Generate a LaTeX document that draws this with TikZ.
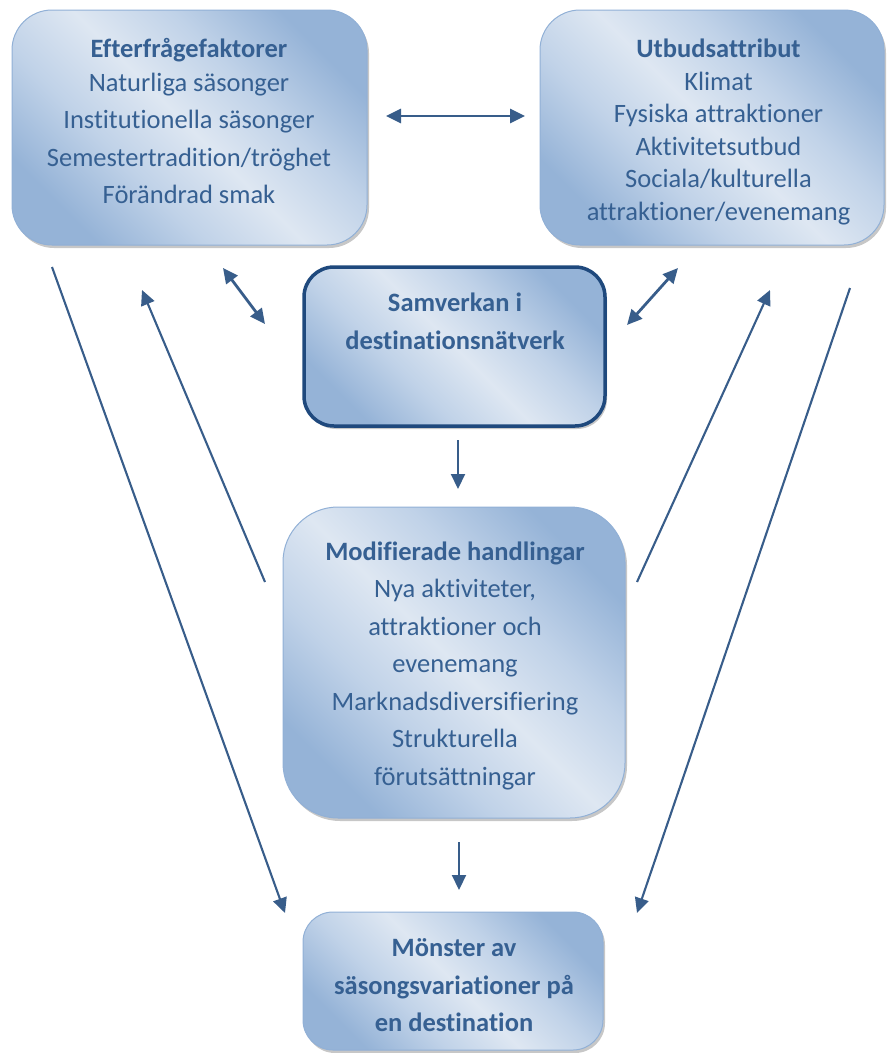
\documentclass[tikz,border=0pt]{standalone}
\usepackage{fontspec}
\setmainfont{Carlito}[Ligatures=NoCommon]
\usetikzlibrary{arrows.meta,shadows}
\definecolor{bdark}{RGB}{149,179,215}
\definecolor{bmid}{RGB}{192,210,232}
\definecolor{blight}{RGB}{222,231,242}
\definecolor{bborder}{RGB}{145,176,214}
\definecolor{txtc}{RGB}{54,96,146}
\definecolor{arrc}{RGB}{56,93,138}
\definecolor{frameblue}{RGB}{31,73,125}
\pgfdeclareverticalshading{boxshade}{100bp}{color(0bp)=(bdark); color(25bp)=(bdark); color(38bp)=(bmid); color(50bp)=(blight); color(62bp)=(bmid); color(75bp)=(bdark); color(100bp)=(bdark)}
\begin{document}
\begin{tikzpicture}[x=1pt,y=-1pt,
  box/.style={rectangle, rounded corners=#1, draw=bborder, line width=1pt,
    shading=boxshade, shading angle=-45,
    drop shadow={shadow xshift=2pt, shadow yshift=-3pt, fill=black!55, opacity=0.4},
    inner sep=0pt},
  framebox/.style={box=#1, draw=frameblue, line width=3.5pt},
  txt/.style={anchor=north, inner sep=0pt, align=center, text=txtc,
    font=\fontsize{26.5}{37.5}\selectfont},
  dbl/.style={draw=arrc, line width=2.8pt, {Triangle[length=15pt,width=14pt]}-{Triangle[length=15pt,width=14pt]}},
  one/.style={draw=arrc, line width=2.1pt, -{Triangle[length=15pt,width=14pt]}}
]
\useasboundingbox (0,0) rectangle (888,1053);

% boxes
\node[box=40, minimum width=355pt, minimum height=235pt] (demand) at (189.5,127.5) {};
\node[box=40, minimum width=344pt, minimum height=235pt] (supply) at (712,127.5) {};
\node[framebox=30, minimum width=301pt, minimum height=159pt] (network) at (454.5,346.5) {};
\node[box=55, minimum width=342pt, minimum height=311pt] (actions) at (454,662.5) {};
\node[box=30, minimum width=300pt, minimum height=138pt] (pattern) at (453,981) {};

% texts
\node[txt] (demandtxt) at (189,31.05) {\textbf{Efterfrågefaktorer}\strut\\[-4pt]
  Naturliga säsonger\\ Institutionella säsonger\\ Semestertradition/tröghet\\ Förändrad smak};
\node[txt, font=\fontsize{26.5}{32.6}\selectfont] (supplytxt) at (718.5,34.5) {\textbf{Utbudsattribut}\strut\\
  Klimat\\ Fysiska attraktioner\\ Aktivitetsutbud\\ Sociala/kulturella\\ attraktioner/evenemang};
\node[txt, font=\fontsize{26.5}{37.6}\selectfont\bfseries] (networktxt) at (455,285.4) {Samverkan i\strut\\ destinationsnätverk};
\node[txt] (actionstxt) at (455,533.75) {\textbf{Modifierade handlingar}\strut\\
  Nya aktiviteter,\\ attraktioner och\\ evenemang\\ Marknadsdiversifiering\\ Strukturella\\ förutsättningar};
\node[txt, font=\fontsize{26.5}{37.5}\selectfont\bfseries] (patterntxt) at (454,930.45) {Mönster av\strut\\ säsongsvariationer på\\ en destination};

% connector end points
\coordinate (h1) at (386,116);
\coordinate (h2) at (525,116);
\coordinate (l1) at (223,268);
\coordinate (l2) at (265,324);
\coordinate (r1) at (678,268);
\coordinate (r2) at (627,325);
\coordinate (ld1) at (52,267);
\coordinate (ld2) at (285,913);
\coordinate (lu1) at (265,582);
\coordinate (lu2) at (142,290);
\coordinate (ru1) at (637,582);
\coordinate (ru2) at (770,290);
\coordinate (rd1) at (850,288);
\coordinate (rd2) at (637,913);
\coordinate (c1) at (458,440);
\coordinate (c2) at (458,489);
\coordinate (m1) at (459,842);
\coordinate (m2) at (459,890);

% connectors
\draw[dbl] (h1) -- (h2);
\draw[dbl] (l1) -- (l2);
\draw[dbl] (r1) -- (r2);
\draw[one] (ld1) -- (ld2);
\draw[one] (lu1) -- (lu2);
\draw[one] (ru1) -- (ru2);
\draw[one] (rd1) -- (rd2);
\draw[one] (c1) -- (c2);
\draw[one] (m1) -- (m2);
\end{tikzpicture}
\end{document}
